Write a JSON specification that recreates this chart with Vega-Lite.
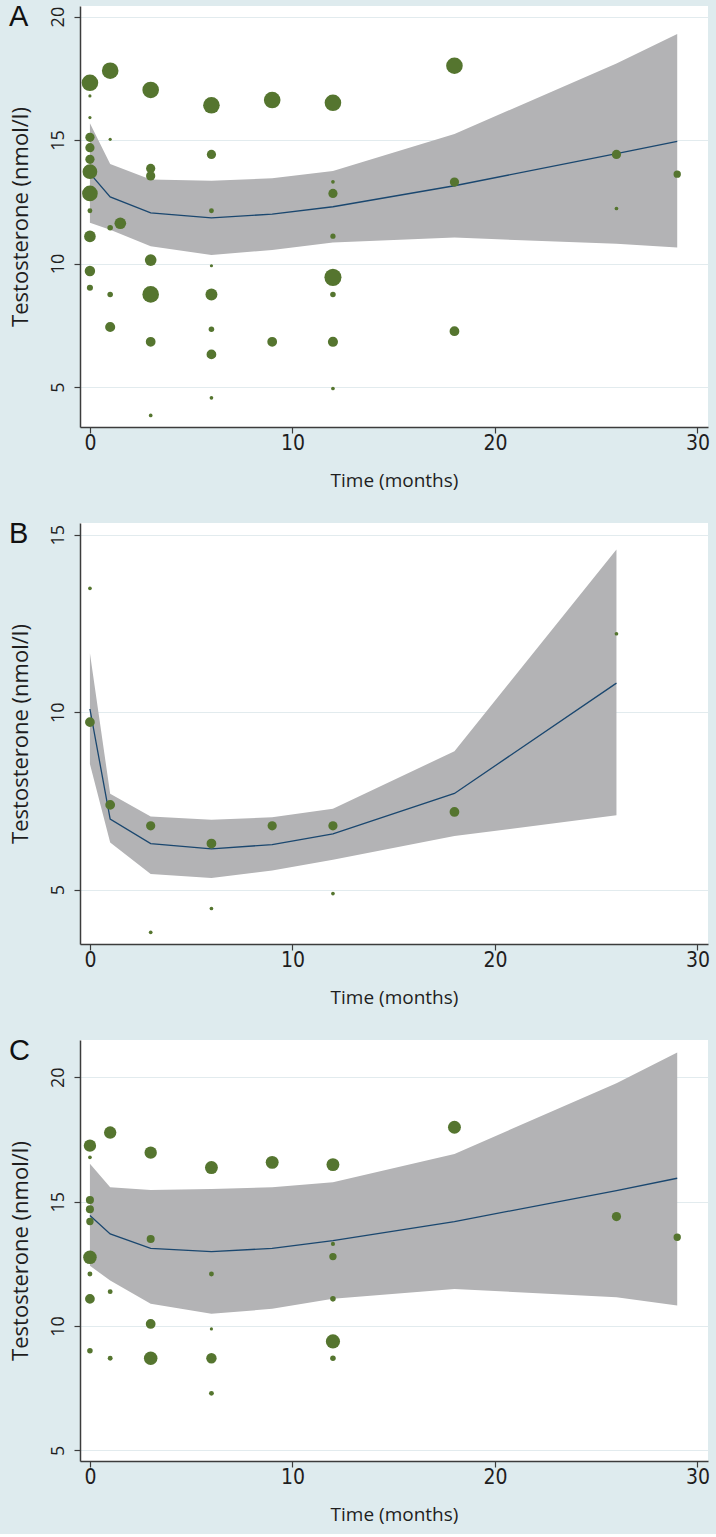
{
  "$schema": "https://vega.github.io/schema/vega-lite/v6.json",
  "background": "#deebee",
  "padding": {"left": 9, "top": 3, "right": 8, "bottom": 10},
  "autosize": {"type": "pad"},
  "spacing": 96,
  "bounds": "flush",
  "resolve": {"scale": {"y": "independent"}},
  "config": {
    "font": "Open Sans",
    "view": {"fill": "white", "stroke": null},
    "axis": {
      "domainColor": "#3c3c3c", "domainWidth": 1.5, "tickColor": "#3c3c3c", "tickWidth": 1.2, "tickSize": 6,
      "labelColor": "#1e1e1e", "titleColor": "#1e1e1e", "titleFontWeight": "normal",
      "gridColor": "#e2ebee", "gridWidth": 1, "labelFlush": false, "labelOverlap": false
    },
    "axisX": {"grid": false, "labelFont": "Liberation Sans Narrow, DejaVu Sans Condensed, sans-serif", "labelFontSize": 21, "labelPadding": -1, "titleFont": "Open Sans", "titleFontSize": 19, "titlePadding": 18},
    "axisY": {"grid": true, "labelAngle": 270, "labelAlign": "center", "labelBaseline": "bottom", "labelFont": "Open Sans", "labelFontSize": 18, "labelPadding": 7, "titleFont": "Open Sans", "titleFontSize": 22, "titlePadding": 17}
  },
  "datasets": {
    "pts": [
      {"panel": "A", "t": 0, "y": 17.32, "w": 81}, {"panel": "A", "t": 0, "y": 16.79, "w": 3}, {"panel": "A", "t": 0, "y": 15.91, "w": 3},
      {"panel": "A", "t": 0, "y": 15.11, "w": 25}, {"panel": "A", "t": 0, "y": 14.69, "w": 25}, {"panel": "A", "t": 0, "y": 14.22, "w": 25},
      {"panel": "A", "t": 0, "y": 13.72, "w": 64}, {"panel": "A", "t": 0, "y": 12.84, "w": 72}, {"panel": "A", "t": 0, "y": 12.14, "w": 7},
      {"panel": "A", "t": 0, "y": 11.1, "w": 40}, {"panel": "A", "t": 0, "y": 9.7, "w": 32}, {"panel": "A", "t": 0, "y": 9.02, "w": 11},
      {"panel": "A", "t": 1, "y": 17.81, "w": 81}, {"panel": "A", "t": 1, "y": 15.03, "w": 3}, {"panel": "A", "t": 1, "y": 11.45, "w": 9},
      {"panel": "A", "t": 1, "y": 8.75, "w": 9}, {"panel": "A", "t": 1, "y": 7.43, "w": 30}, {"panel": "A", "t": 1.5, "y": 11.63, "w": 40},
      {"panel": "A", "t": 3, "y": 17.03, "w": 81}, {"panel": "A", "t": 3, "y": 13.85, "w": 25}, {"panel": "A", "t": 3, "y": 13.55, "w": 25},
      {"panel": "A", "t": 3, "y": 10.14, "w": 40}, {"panel": "A", "t": 3, "y": 8.75, "w": 81}, {"panel": "A", "t": 3, "y": 6.83, "w": 28},
      {"panel": "A", "t": 3, "y": 3.85, "w": 4},
      {"panel": "A", "t": 6, "y": 16.41, "w": 81}, {"panel": "A", "t": 6, "y": 14.42, "w": 25}, {"panel": "A", "t": 6, "y": 12.14, "w": 7},
      {"panel": "A", "t": 6, "y": 9.91, "w": 3}, {"panel": "A", "t": 6, "y": 8.75, "w": 42}, {"panel": "A", "t": 6, "y": 7.34, "w": 9},
      {"panel": "A", "t": 6, "y": 6.32, "w": 28}, {"panel": "A", "t": 6, "y": 4.56, "w": 4},
      {"panel": "A", "t": 9, "y": 16.62, "w": 81}, {"panel": "A", "t": 9, "y": 6.83, "w": 28},
      {"panel": "A", "t": 12, "y": 16.51, "w": 81}, {"panel": "A", "t": 12, "y": 13.31, "w": 4}, {"panel": "A", "t": 12, "y": 12.84, "w": 25},
      {"panel": "A", "t": 12, "y": 11.11, "w": 8}, {"panel": "A", "t": 12, "y": 9.44, "w": 86}, {"panel": "A", "t": 12, "y": 8.75, "w": 9},
      {"panel": "A", "t": 12, "y": 6.83, "w": 30}, {"panel": "A", "t": 12, "y": 4.94, "w": 4},
      {"panel": "A", "t": 18, "y": 18.01, "w": 81}, {"panel": "A", "t": 18, "y": 13.3, "w": 25}, {"panel": "A", "t": 18, "y": 7.26, "w": 28},
      {"panel": "A", "t": 26, "y": 14.42, "w": 25}, {"panel": "A", "t": 26, "y": 12.23, "w": 4},
      {"panel": "A", "t": 29, "y": 13.62, "w": 16},
      {"panel": "B", "t": 0, "y": 13.49, "w": 4}, {"panel": "B", "t": 0, "y": 9.72, "w": 28},
      {"panel": "B", "t": 1, "y": 7.39, "w": 28},
      {"panel": "B", "t": 3, "y": 6.8, "w": 25}, {"panel": "B", "t": 3, "y": 3.8, "w": 4},
      {"panel": "B", "t": 6, "y": 6.3, "w": 28}, {"panel": "B", "t": 6, "y": 4.47, "w": 4},
      {"panel": "B", "t": 9, "y": 6.8, "w": 25},
      {"panel": "B", "t": 12, "y": 6.8, "w": 25}, {"panel": "B", "t": 12, "y": 4.89, "w": 4},
      {"panel": "B", "t": 18, "y": 7.19, "w": 28},
      {"panel": "B", "t": 26, "y": 12.21, "w": 4},
      {"panel": "C", "t": 0, "y": 17.25, "w": 45}, {"panel": "C", "t": 0, "y": 16.78, "w": 4}, {"panel": "C", "t": 0, "y": 15.07, "w": 19},
      {"panel": "C", "t": 0, "y": 14.69, "w": 19}, {"panel": "C", "t": 0, "y": 14.2, "w": 16}, {"panel": "C", "t": 0, "y": 12.76, "w": 54},
      {"panel": "C", "t": 0, "y": 12.09, "w": 7}, {"panel": "C", "t": 0, "y": 11.09, "w": 28}, {"panel": "C", "t": 0, "y": 9.0, "w": 9},
      {"panel": "C", "t": 1, "y": 17.78, "w": 45}, {"panel": "C", "t": 1, "y": 11.38, "w": 7}, {"panel": "C", "t": 1, "y": 8.7, "w": 7},
      {"panel": "C", "t": 3, "y": 16.97, "w": 45}, {"panel": "C", "t": 3, "y": 13.5, "w": 19}, {"panel": "C", "t": 3, "y": 10.08, "w": 28},
      {"panel": "C", "t": 3, "y": 8.7, "w": 54},
      {"panel": "C", "t": 6, "y": 16.37, "w": 49}, {"panel": "C", "t": 6, "y": 12.09, "w": 7}, {"panel": "C", "t": 6, "y": 9.88, "w": 3},
      {"panel": "C", "t": 6, "y": 8.7, "w": 32}, {"panel": "C", "t": 6, "y": 7.29, "w": 7},
      {"panel": "C", "t": 9, "y": 16.58, "w": 49},
      {"panel": "C", "t": 12, "y": 16.49, "w": 49}, {"panel": "C", "t": 12, "y": 13.3, "w": 5}, {"panel": "C", "t": 12, "y": 12.79, "w": 16},
      {"panel": "C", "t": 12, "y": 11.09, "w": 9}, {"panel": "C", "t": 12, "y": 9.38, "w": 59}, {"panel": "C", "t": 12, "y": 8.7, "w": 9},
      {"panel": "C", "t": 18, "y": 17.99, "w": 49},
      {"panel": "C", "t": 26, "y": 14.4, "w": 25},
      {"panel": "C", "t": 29, "y": 13.57, "w": 16}
    ],
    "fit": [
      {"panel": "A", "t": 0, "lo": 11.65, "fit": 13.65, "hi": 15.68},
      {"panel": "A", "t": 1, "lo": 11.37, "fit": 12.7, "hi": 14.03},
      {"panel": "A", "t": 3, "lo": 10.7, "fit": 12.05, "hi": 13.4},
      {"panel": "A", "t": 6, "lo": 10.35, "fit": 11.85, "hi": 13.35},
      {"panel": "A", "t": 9, "lo": 10.55, "fit": 12.0, "hi": 13.45},
      {"panel": "A", "t": 12, "lo": 10.85, "fit": 12.3, "hi": 13.75},
      {"panel": "A", "t": 18, "lo": 11.05, "fit": 13.15, "hi": 15.25},
      {"panel": "A", "t": 26, "lo": 10.8, "fit": 14.45, "hi": 18.1},
      {"panel": "A", "t": 29, "lo": 10.65, "fit": 14.95, "hi": 19.3},
      {"panel": "B", "t": 0, "lo": 8.54, "fit": 10.09, "hi": 11.66},
      {"panel": "B", "t": 1, "lo": 6.33, "fit": 6.99, "hi": 7.7},
      {"panel": "B", "t": 3, "lo": 5.44, "fit": 6.3, "hi": 7.06},
      {"panel": "B", "t": 6, "lo": 5.33, "fit": 6.15, "hi": 6.97},
      {"panel": "B", "t": 9, "lo": 5.54, "fit": 6.27, "hi": 7.04},
      {"panel": "B", "t": 12, "lo": 5.84, "fit": 6.57, "hi": 7.28},
      {"panel": "B", "t": 18, "lo": 6.51, "fit": 7.71, "hi": 8.9},
      {"panel": "B", "t": 26, "lo": 7.1, "fit": 10.82, "hi": 14.58},
      {"panel": "C", "t": 0, "lo": 12.42, "fit": 14.44, "hi": 16.52},
      {"panel": "C", "t": 1, "lo": 11.83, "fit": 13.7, "hi": 15.58},
      {"panel": "C", "t": 3, "lo": 10.89, "fit": 13.12, "hi": 15.47},
      {"panel": "C", "t": 6, "lo": 10.49, "fit": 12.99, "hi": 15.51},
      {"panel": "C", "t": 9, "lo": 10.69, "fit": 13.12, "hi": 15.58},
      {"panel": "C", "t": 12, "lo": 11.09, "fit": 13.43, "hi": 15.78},
      {"panel": "C", "t": 18, "lo": 11.49, "fit": 14.2, "hi": 16.92},
      {"panel": "C", "t": 26, "lo": 11.15, "fit": 15.44, "hi": 19.76},
      {"panel": "C", "t": 29, "lo": 10.82, "fit": 15.94, "hi": 21.0}
    ]
  },
  "vconcat": [
    {
      "title": {"text": "A", "anchor": "start", "frame": "group", "offset": -28, "dx": -71, "dy": 21, "baseline": "alphabetic", "font": "Liberation Sans", "fontSize": 29, "fontWeight": "normal", "color": "#111111"},
      "width": 628, "height": 421,
      "layer": [
        {"data": {"name": "fit"}, "transform": [{"filter": "datum.panel == 'A'"}],
         "mark": {"type": "area", "color": "#b3b3b5", "opacity": 1},
         "encoding": {
           "x": {"field": "t", "type": "quantitative", "scale": {"domain": [-0.49, 30.52], "nice": false, "zero": false}, "axis": {"values": [0, 10, 20, 30], "title": "Time (months)"}},
           "y": {"field": "lo", "type": "quantitative", "scale": {"domain": [3.38, 20.43], "nice": false, "zero": false}, "axis": {"values": [5, 10, 15, 20], "title": "Testosterone (nmol/l)"}},
           "y2": {"field": "hi"}}},
        {"data": {"name": "fit"}, "transform": [{"filter": "datum.panel == 'A'"}],
         "mark": {"type": "line", "color": "#1a476f", "strokeWidth": 1.3},
         "encoding": {"x": {"field": "t", "type": "quantitative"}, "y": {"field": "fit", "type": "quantitative"}}},
        {"data": {"name": "pts"}, "transform": [{"filter": "datum.panel == 'A'"}],
         "mark": {"type": "circle", "color": "#55752f", "opacity": 1},
         "encoding": {"x": {"field": "t", "type": "quantitative"}, "y": {"field": "y", "type": "quantitative"},
           "size": {"field": "w", "type": "quantitative", "scale": {"domain": [0, 100], "range": [0, 340]}, "legend": null}}}
      ]
    },
    {
      "title": {"text": "B", "anchor": "start", "frame": "group", "offset": -28, "dx": -71, "dy": 21, "baseline": "alphabetic", "font": "Liberation Sans", "fontSize": 29, "fontWeight": "normal", "color": "#111111"},
      "width": 628, "height": 421,
      "layer": [
        {"data": {"name": "fit"}, "transform": [{"filter": "datum.panel == 'B'"}],
         "mark": {"type": "area", "color": "#b3b3b5", "opacity": 1},
         "encoding": {
           "x": {"field": "t", "type": "quantitative", "scale": {"domain": [-0.49, 30.52], "nice": false, "zero": false}, "axis": {"values": [0, 10, 20, 30], "title": "Time (months)"}},
           "y": {"field": "lo", "type": "quantitative", "scale": {"domain": [3.47, 15.33], "nice": false, "zero": false}, "axis": {"values": [5, 10, 15], "title": "Testosterone (nmol/l)"}},
           "y2": {"field": "hi"}}},
        {"data": {"name": "fit"}, "transform": [{"filter": "datum.panel == 'B'"}],
         "mark": {"type": "line", "color": "#1a476f", "strokeWidth": 1.3},
         "encoding": {"x": {"field": "t", "type": "quantitative"}, "y": {"field": "fit", "type": "quantitative"}}},
        {"data": {"name": "pts"}, "transform": [{"filter": "datum.panel == 'B'"}],
         "mark": {"type": "circle", "color": "#55752f", "opacity": 1},
         "encoding": {"x": {"field": "t", "type": "quantitative"}, "y": {"field": "y", "type": "quantitative"},
           "size": {"field": "w", "type": "quantitative", "scale": {"domain": [0, 100], "range": [0, 340]}, "legend": null}}}
      ]
    },
    {
      "title": {"text": "C", "anchor": "start", "frame": "group", "offset": -28, "dx": -71, "dy": 21, "baseline": "alphabetic", "font": "Liberation Sans", "fontSize": 29, "fontWeight": "normal", "color": "#111111"},
      "width": 628, "height": 421,
      "layer": [
        {"data": {"name": "fit"}, "transform": [{"filter": "datum.panel == 'C'"}],
         "mark": {"type": "area", "color": "#b3b3b5", "opacity": 1},
         "encoding": {
           "x": {"field": "t", "type": "quantitative", "scale": {"domain": [-0.49, 30.52], "nice": false, "zero": false}, "axis": {"values": [0, 10, 20, 30], "title": "Time (months)"}},
           "y": {"field": "lo", "type": "quantitative", "scale": {"domain": [4.57, 21.5], "nice": false, "zero": false}, "axis": {"values": [5, 10, 15, 20], "title": "Testosterone (nmol/l)"}},
           "y2": {"field": "hi"}}},
        {"data": {"name": "fit"}, "transform": [{"filter": "datum.panel == 'C'"}],
         "mark": {"type": "line", "color": "#1a476f", "strokeWidth": 1.3},
         "encoding": {"x": {"field": "t", "type": "quantitative"}, "y": {"field": "fit", "type": "quantitative"}}},
        {"data": {"name": "pts"}, "transform": [{"filter": "datum.panel == 'C'"}],
         "mark": {"type": "circle", "color": "#55752f", "opacity": 1},
         "encoding": {"x": {"field": "t", "type": "quantitative"}, "y": {"field": "y", "type": "quantitative"},
           "size": {"field": "w", "type": "quantitative", "scale": {"domain": [0, 100], "range": [0, 340]}, "legend": null}}}
      ]
    }
  ]
}
